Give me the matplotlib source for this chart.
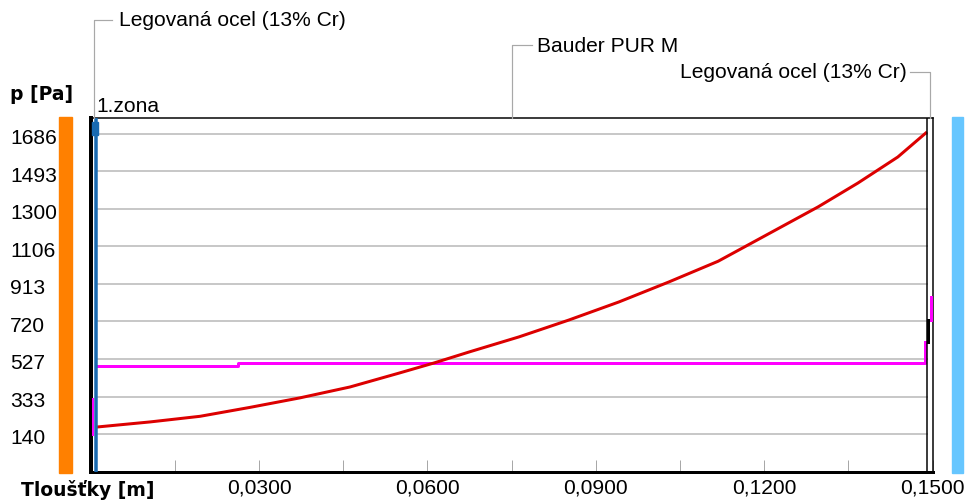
import matplotlib
matplotlib.use("Agg")
import matplotlib.pyplot as plt
from matplotlib import font_manager
from matplotlib.lines import Line2D
from matplotlib.patches import Rectangle
from matplotlib.transforms import blended_transform_factory, offset_copy

# data
thick_ticks = [0.03, 0.06, 0.09, 0.12, 0.15]
thick_minor = [0.015, 0.045, 0.075, 0.105, 0.135]
p_ticks = [140, 333, 527, 720, 913, 1106, 1300, 1493, 1686]

# partial vapour pressure (red)
pv_t = [0.0012, 0.0106, 0.0195, 0.0284, 0.0373, 0.0462, 0.055, 0.0612, 0.0675,
        0.0763, 0.0852, 0.0941, 0.103, 0.1118, 0.1207, 0.1296, 0.1367, 0.1438, 0.1488]
pv = [176, 202, 231, 277, 326, 382, 454, 506, 563,
      640, 727, 820, 923, 1030, 1170, 1310, 1433, 1567, 1691]

# saturation pressure (magenta), per layer
ps_left_t = [0.0004, 0.0004]
ps_left = [135, 320]
ps_mid_t = [0.001, 0.0263, 0.0263, 0.1487, 0.1487]
ps_mid = [490, 490, 506, 506, 612]
ps_right_t = [0.1497, 0.1497]
ps_right = [725, 846]
ps_gap_t = [0.1491, 0.1491]
ps_gap = [612, 725]

layers = ["Legovaná ocel (13% Cr)", "Bauder PUR M", "Legovaná ocel (13% Cr)"]

W, H = 968, 504
def fx(x):
    return x / W
def fy(y):
    return 1 - y / H
def pt(px):
    return px * 72 / 100

names = {f.name for f in font_manager.fontManager.ttflist}
if "Liberation Sans Narrow" in names:
    FONT, FS = "Liberation Sans Narrow", pt(24)
else:
    FONT, FS = "Liberation Sans", pt(21)

fig = plt.figure(figsize=(W / 100, H / 100), dpi=100)
ax = fig.add_axes([fx(90.6), fy(472), (932.6 - 90.6) / W, (472 - 118) / H])
ax.set_xlim(0, 0.15)
ax.set_ylim(-56, 1768)

for v in p_ticks:
    ax.plot([0.001, 0.149], [v, v], color="#c8c8c8", lw=pt(2), zorder=1)

ax.plot(ps_left_t, ps_left, color="#ff00ff", lw=pt(2), zorder=3)
ax.plot(ps_mid_t, ps_mid, color="#ff00ff", lw=pt(3), zorder=3)
ax.plot(ps_right_t, ps_right, color="#ff00ff", lw=pt(3), zorder=3)
ax.plot(ps_gap_t, ps_gap, color="black", lw=pt(3), zorder=3)
ax.plot(pv_t, pv, color="#dc0000", lw=pt(3), zorder=4)

# layer borders
ax.axvline(0.0009, color="#1a6ab0", lw=pt(3.5), zorder=5)
ax.add_patch(Rectangle((0.0002, 1681), 0.0011, 67, color="#1a6ab0", zorder=6))
ax.axvline(0.149, color="black", lw=pt(1.5), zorder=5)

for s in ax.spines.values():
    s.set_color("black")
ax.spines["left"].set_linewidth(pt(4))
ax.spines["bottom"].set_linewidth(pt(3))
ax.spines["top"].set_linewidth(pt(1.5))
ax.spines["right"].set_linewidth(pt(1.5))

ax.set_xticks(thick_ticks)
ax.set_xticks(thick_minor, minor=True)
ax.set_xticklabels([f"{v:.4f}".replace(".", ",") for v in thick_ticks],
                   fontfamily=FONT, fontsize=FS)
ax.tick_params(axis="x", which="both", direction="in", length=pt(12),
               width=pt(1), color="#a8a8a8", pad=pt(7))
ax.set_yticks([])

tr = offset_copy(blended_transform_factory(fig.transFigure, ax.transData),
                 fig=fig, y=-5, units="dots")
for v in p_ticks:
    ax.text(fx(10), v, str(v), transform=tr, ha="left", va="center",
            fontfamily=FONT, fontsize=FS)

# side bars
fig.add_artist(Rectangle((fx(59), fy(473)), 13 / W, 356 / H,
                         transform=fig.transFigure, color="#ff8000"))
fig.add_artist(Rectangle((fx(952), fy(473)), 11 / W, 356 / H,
                         transform=fig.transFigure, color="#66c6ff"))

# layer labels with leader lines
def leader(xs, ys):
    fig.add_artist(Line2D([fx(x) for x in xs], [fy(y) for y in ys],
                          transform=fig.transFigure, color="#a8a8a8", lw=pt(1.2)))

leader([94, 94, 112], [118, 20, 20])
fig.text(fx(119), fy(21), layers[0], ha="left", va="center",
         fontfamily=FONT, fontsize=FS)
leader([512, 512, 532], [118, 45, 45])
fig.text(fx(537), fy(46), layers[1], ha="left", va="center",
         fontfamily=FONT, fontsize=FS)
leader([930, 930, 910], [118, 72, 72])
fig.text(fx(907), fy(73), layers[2], ha="right", va="center",
         fontfamily=FONT, fontsize=FS)

fig.text(fx(96), fy(106), "1.zona", ha="left", va="center",
         fontfamily=FONT, fontsize=FS)
fig.text(fx(10), fy(95), "p [Pa]", ha="left", va="center",
         fontfamily="DejaVu Sans", fontweight="bold", fontsize=13.5)
fig.text(fx(21), fy(490), "Tloušťky [m]", ha="left", va="center",
         fontfamily="DejaVu Sans", fontweight="bold", fontsize=13.5)

fig.savefig("out.png", dpi=100)
